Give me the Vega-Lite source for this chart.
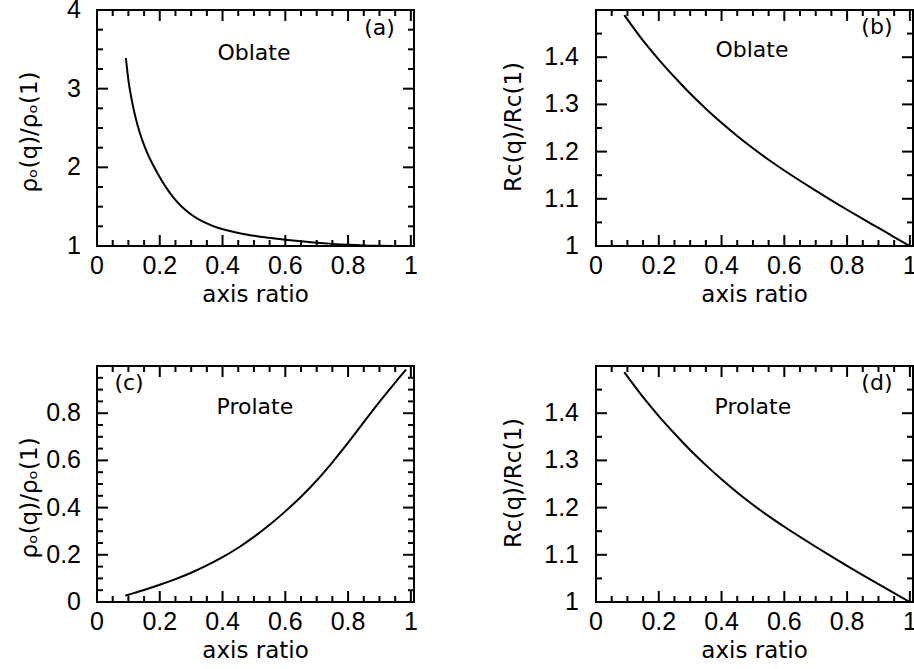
{
"$schema": "https://vega.github.io/schema/vega-lite/v6.json",
"autosize": "none",
"padding": {"left": 97, "top": 10, "right": 817, "bottom": 659},
"background": "white",
"bounds": "flush",
"columns": 2,
"spacing": {"row": 120, "column": 182},
"datasets": {
"a": [{"q":0.092,"v":3.39},{"q":0.10,"v":3.11},{"q":0.11,"v":2.87},{"q":0.12,"v":2.68},{"q":0.13,"v":2.525},{"q":0.14,"v":2.395},{"q":0.15,"v":2.283},{"q":0.16,"v":2.185},{"q":0.18,"v":2.02},{"q":0.20,"v":1.875},{"q":0.22,"v":1.745},{"q":0.24,"v":1.634},{"q":0.26,"v":1.541},{"q":0.28,"v":1.464},{"q":0.30,"v":1.401},{"q":0.32,"v":1.349},{"q":0.35,"v":1.287},{"q":0.38,"v":1.239},{"q":0.41,"v":1.203},{"q":0.44,"v":1.174},{"q":0.48,"v":1.143},{"q":0.52,"v":1.118},{"q":0.56,"v":1.098},{"q":0.60,"v":1.080},{"q":0.65,"v":1.060},{"q":0.70,"v":1.042},{"q":0.75,"v":1.027},{"q":0.80,"v":1.015},{"q":0.85,"v":1.007},{"q":0.90,"v":1.003},{"q":0.95,"v":1.001},{"q":0.99,"v":1.0}],
"b": [{"q":0.09,"v":1.489},{"q":0.10,"v":1.480},{"q":0.15,"v":1.435},{"q":0.20,"v":1.395},{"q":0.25,"v":1.358},{"q":0.30,"v":1.323},{"q":0.35,"v":1.291},{"q":0.40,"v":1.261},{"q":0.45,"v":1.233},{"q":0.50,"v":1.207},{"q":0.55,"v":1.1828},{"q":0.60,"v":1.160},{"q":0.65,"v":1.1383},{"q":0.70,"v":1.1173},{"q":0.75,"v":1.0968},{"q":0.80,"v":1.0768},{"q":0.85,"v":1.0573},{"q":0.90,"v":1.0383},{"q":0.95,"v":1.019},{"q":1.0,"v":1.0}],
"c": [{"q":0.09,"v":0.027},{"q":0.10,"v":0.031},{"q":0.15,"v":0.051},{"q":0.20,"v":0.073},{"q":0.25,"v":0.097},{"q":0.30,"v":0.124},{"q":0.35,"v":0.155},{"q":0.40,"v":0.190},{"q":0.45,"v":0.230},{"q":0.50,"v":0.276},{"q":0.55,"v":0.327},{"q":0.60,"v":0.384},{"q":0.65,"v":0.446},{"q":0.70,"v":0.515},{"q":0.75,"v":0.592},{"q":0.80,"v":0.675},{"q":0.85,"v":0.762},{"q":0.90,"v":0.848},{"q":0.95,"v":0.930},{"q":0.985,"v":0.985}],
"d": [{"q":0.09,"v":1.487},{"q":0.10,"v":1.478},{"q":0.15,"v":1.434},{"q":0.20,"v":1.394},{"q":0.25,"v":1.357},{"q":0.30,"v":1.322},{"q":0.35,"v":1.290},{"q":0.40,"v":1.260},{"q":0.45,"v":1.232},{"q":0.50,"v":1.206},{"q":0.55,"v":1.182},{"q":0.60,"v":1.1595},{"q":0.65,"v":1.138},{"q":0.70,"v":1.117},{"q":0.75,"v":1.0965},{"q":0.80,"v":1.0765},{"q":0.85,"v":1.057},{"q":0.90,"v":1.038},{"q":0.95,"v":1.019},{"q":1.0,"v":1.0}],
"ta": [{"x":0.90,"y":3.77,"t":"(a)"},{"x":0.50,"y":3.45,"t":"Oblate"}],
"tb": [{"x":0.895,"y":1.464,"t":"(b)"},{"x":0.497,"y":1.415,"t":"Oblate"}],
"tc": [{"x":0.102,"y":0.928,"t":"(c)"},{"x":0.503,"y":0.828,"t":"Prolate"}],
"td": [{"x":0.895,"y":1.464,"t":"(d)"},{"x":0.50,"y":1.414,"t":"Prolate"}],
"one": [{"k":1}],
"xlab": [{"t":0},{"t":0.2},{"t":0.4},{"t":0.6},{"t":0.8},{"t":1}],
"ya_lab": [{"t":1},{"t":2},{"t":3},{"t":4}],
"yb_lab": [{"t":1},{"t":1.1},{"t":1.2},{"t":1.3},{"t":1.4}],
"yc_lab": [{"t":0},{"t":0.2},{"t":0.4},{"t":0.6},{"t":0.8}],
"xmaj": [{"t":0.2},{"t":0.4},{"t":0.6},{"t":0.8},{"t":1}],
"xmin": [{"t":0.05},{"t":0.1},{"t":0.15},{"t":0.25},{"t":0.3},{"t":0.35},{"t":0.45},{"t":0.5},{"t":0.55},{"t":0.65},{"t":0.7},{"t":0.75},{"t":0.85},{"t":0.9},{"t":0.95}],
"ya_maj": [{"t":2},{"t":3}],
"ya_min": [{"t":1.25},{"t":1.5},{"t":1.75},{"t":2.25},{"t":2.5},{"t":2.75},{"t":3.25},{"t":3.5},{"t":3.75}],
"yb_maj": [{"t":1.1},{"t":1.2},{"t":1.3},{"t":1.4}],
"yb_min": [{"t":1.05},{"t":1.15},{"t":1.25},{"t":1.35},{"t":1.45}],
"yc_maj": [{"t":0.2},{"t":0.4},{"t":0.6},{"t":0.8}],
"yc_min": [{"t":0.05},{"t":0.1},{"t":0.15},{"t":0.25},{"t":0.3},{"t":0.35},{"t":0.45},{"t":0.5},{"t":0.55},{"t":0.65},{"t":0.7},{"t":0.75},{"t":0.85},{"t":0.9},{"t":0.95}]
},
"concat": [
{
"width": 317, "height": 236,
"layer": [
{"data": {"name": "a"}, "mark": {"type": "line", "color": "black", "strokeWidth": 2, "interpolate": "monotone"},
 "encoding": {"x": {"field": "q", "type": "quantitative", "scale": {"domain": [0, 1.01], "nice": false, "zero": false}, "axis": null}, "y": {"field": "v", "type": "quantitative", "scale": {"domain": [1, 4], "nice": false, "zero": false}, "axis": null}}},
{"data": {"name": "ta"}, "mark": {"type": "text", "font": "DejaVu Sans", "fontSize": 22, "color": "black", "align": "center", "baseline": "middle"},
 "encoding": {"x": {"field": "x", "type": "quantitative", "scale": {"domain": [0, 1.01], "nice": false, "zero": false}, "axis": null}, "y": {"field": "y", "type": "quantitative", "scale": {"domain": [1, 4], "nice": false, "zero": false}, "axis": null}, "text": {"field": "t"}}},
{"data": {"name": "xlab"}, "mark": {"type": "text", "font": "Liberation Sans", "fontSize": 25, "color": "black", "align": "center", "baseline": "alphabetic", "dy": 28},
 "encoding": {"x": {"field": "t", "type": "quantitative", "scale": {"domain": [0, 1.01], "nice": false, "zero": false}, "axis": null}, "y": {"datum": 1, "type": "quantitative", "scale": {"domain": [1, 4], "nice": false, "zero": false}, "axis": null}, "text": {"field": "t", "type": "quantitative", "format": "~g"}}},
{"data": {"name": "ya_lab"}, "mark": {"type": "text", "font": "Liberation Sans", "fontSize": 25, "color": "black", "align": "right", "baseline": "middle", "dx": -16},
 "encoding": {"y": {"field": "t", "type": "quantitative", "scale": {"domain": [1, 4], "nice": false, "zero": false}, "axis": null}, "x": {"datum": 0, "type": "quantitative", "scale": {"domain": [0, 1.01], "nice": false, "zero": false}, "axis": null}, "text": {"field": "t", "type": "quantitative", "format": "~g"}}},
{"data": {"name": "one"}, "mark": {"type": "text", "text": "axis ratio", "font": "DejaVu Sans", "fontSize": 23, "color": "black", "align": "center", "baseline": "alphabetic", "dy": 56},
 "encoding": {"x": {"datum": 0.505, "type": "quantitative", "scale": {"domain": [0, 1.01], "nice": false, "zero": false}, "axis": null}, "y": {"datum": 1, "type": "quantitative", "scale": {"domain": [1, 4], "nice": false, "zero": false}, "axis": null}}},
{"data": {"name": "one"}, "mark": {"type": "text", "text": "ρₒ(q)/ρₒ(1)", "font": "DejaVu Sans", "fontSize": 23, "color": "black", "align": "center", "baseline": "alphabetic", "angle": 270, "dy": -60},
 "encoding": {"x": {"datum": 0, "type": "quantitative", "scale": {"domain": [0, 1.01], "nice": false, "zero": false}, "axis": null}, "y": {"datum": 2.449, "type": "quantitative", "scale": {"domain": [1, 4], "nice": false, "zero": false}, "axis": null}}},
{"data": {"name": "xmaj"}, "mark": {"type": "rule", "color": "black", "strokeWidth": 2, "y2Offset": -11},
 "encoding": {"x": {"field": "t", "type": "quantitative", "scale": {"domain": [0, 1.01], "nice": false, "zero": false}, "axis": null}, "y": {"datum": 1, "type": "quantitative", "scale": {"domain": [1, 4], "nice": false, "zero": false}, "axis": null}, "y2": {"datum": 1}}},
{"data": {"name": "xmaj"}, "mark": {"type": "rule", "color": "black", "strokeWidth": 2, "y2Offset": 11},
 "encoding": {"x": {"field": "t", "type": "quantitative", "scale": {"domain": [0, 1.01], "nice": false, "zero": false}, "axis": null}, "y": {"datum": 4, "type": "quantitative", "scale": {"domain": [1, 4], "nice": false, "zero": false}, "axis": null}, "y2": {"datum": 4}}},
{"data": {"name": "xmin"}, "mark": {"type": "rule", "color": "black", "strokeWidth": 2, "y2Offset": -6},
 "encoding": {"x": {"field": "t", "type": "quantitative", "scale": {"domain": [0, 1.01], "nice": false, "zero": false}, "axis": null}, "y": {"datum": 1, "type": "quantitative", "scale": {"domain": [1, 4], "nice": false, "zero": false}, "axis": null}, "y2": {"datum": 1}}},
{"data": {"name": "xmin"}, "mark": {"type": "rule", "color": "black", "strokeWidth": 2, "y2Offset": 6},
 "encoding": {"x": {"field": "t", "type": "quantitative", "scale": {"domain": [0, 1.01], "nice": false, "zero": false}, "axis": null}, "y": {"datum": 4, "type": "quantitative", "scale": {"domain": [1, 4], "nice": false, "zero": false}, "axis": null}, "y2": {"datum": 4}}},
{"data": {"name": "ya_maj"}, "mark": {"type": "rule", "color": "black", "strokeWidth": 2, "x2Offset": 11},
 "encoding": {"y": {"field": "t", "type": "quantitative", "scale": {"domain": [1, 4], "nice": false, "zero": false}, "axis": null}, "x": {"datum": 0, "type": "quantitative", "scale": {"domain": [0, 1.01], "nice": false, "zero": false}, "axis": null}, "x2": {"datum": 0}}},
{"data": {"name": "ya_maj"}, "mark": {"type": "rule", "color": "black", "strokeWidth": 2, "x2Offset": -11},
 "encoding": {"y": {"field": "t", "type": "quantitative", "scale": {"domain": [1, 4], "nice": false, "zero": false}, "axis": null}, "x": {"datum": 1.01, "type": "quantitative", "scale": {"domain": [0, 1.01], "nice": false, "zero": false}, "axis": null}, "x2": {"datum": 1.01}}},
{"data": {"name": "ya_min"}, "mark": {"type": "rule", "color": "black", "strokeWidth": 2, "x2Offset": 6},
 "encoding": {"y": {"field": "t", "type": "quantitative", "scale": {"domain": [1, 4], "nice": false, "zero": false}, "axis": null}, "x": {"datum": 0, "type": "quantitative", "scale": {"domain": [0, 1.01], "nice": false, "zero": false}, "axis": null}, "x2": {"datum": 0}}},
{"data": {"name": "ya_min"}, "mark": {"type": "rule", "color": "black", "strokeWidth": 2, "x2Offset": -6},
 "encoding": {"y": {"field": "t", "type": "quantitative", "scale": {"domain": [1, 4], "nice": false, "zero": false}, "axis": null}, "x": {"datum": 1.01, "type": "quantitative", "scale": {"domain": [0, 1.01], "nice": false, "zero": false}, "axis": null}, "x2": {"datum": 1.01}}}
]
},
{
"width": 317, "height": 236,
"layer": [
{"data": {"name": "b"}, "mark": {"type": "line", "color": "black", "strokeWidth": 2, "interpolate": "monotone"},
 "encoding": {"x": {"field": "q", "type": "quantitative", "scale": {"domain": [0, 1.01], "nice": false, "zero": false}, "axis": null}, "y": {"field": "v", "type": "quantitative", "scale": {"domain": [1, 1.5], "nice": false, "zero": false}, "axis": null}}},
{"data": {"name": "tb"}, "mark": {"type": "text", "font": "DejaVu Sans", "fontSize": 22, "color": "black", "align": "center", "baseline": "middle"},
 "encoding": {"x": {"field": "x", "type": "quantitative", "scale": {"domain": [0, 1.01], "nice": false, "zero": false}, "axis": null}, "y": {"field": "y", "type": "quantitative", "scale": {"domain": [1, 1.5], "nice": false, "zero": false}, "axis": null}, "text": {"field": "t"}}},
{"data": {"name": "xlab"}, "mark": {"type": "text", "font": "Liberation Sans", "fontSize": 25, "color": "black", "align": "center", "baseline": "alphabetic", "dy": 28},
 "encoding": {"x": {"field": "t", "type": "quantitative", "scale": {"domain": [0, 1.01], "nice": false, "zero": false}, "axis": null}, "y": {"datum": 1, "type": "quantitative", "scale": {"domain": [1, 1.5], "nice": false, "zero": false}, "axis": null}, "text": {"field": "t", "type": "quantitative", "format": "~g"}}},
{"data": {"name": "yb_lab"}, "mark": {"type": "text", "font": "Liberation Sans", "fontSize": 25, "color": "black", "align": "right", "baseline": "middle", "dx": -17},
 "encoding": {"y": {"field": "t", "type": "quantitative", "scale": {"domain": [1, 1.5], "nice": false, "zero": false}, "axis": null}, "x": {"datum": 0, "type": "quantitative", "scale": {"domain": [0, 1.01], "nice": false, "zero": false}, "axis": null}, "text": {"field": "t", "type": "quantitative", "format": "~g"}}},
{"data": {"name": "one"}, "mark": {"type": "text", "text": "axis ratio", "font": "DejaVu Sans", "fontSize": 23, "color": "black", "align": "center", "baseline": "alphabetic", "dy": 56},
 "encoding": {"x": {"datum": 0.505, "type": "quantitative", "scale": {"domain": [0, 1.01], "nice": false, "zero": false}, "axis": null}, "y": {"datum": 1, "type": "quantitative", "scale": {"domain": [1, 1.5], "nice": false, "zero": false}, "axis": null}}},
{"data": {"name": "one"}, "mark": {"type": "text", "text": "Rc(q)/Rc(1)", "font": "DejaVu Sans", "fontSize": 23, "color": "black", "align": "center", "baseline": "alphabetic", "angle": 270, "dy": -75},
 "encoding": {"x": {"datum": 0, "type": "quantitative", "scale": {"domain": [0, 1.01], "nice": false, "zero": false}, "axis": null}, "y": {"datum": 1.252, "type": "quantitative", "scale": {"domain": [1, 1.5], "nice": false, "zero": false}, "axis": null}}},
{"data": {"name": "xmaj"}, "mark": {"type": "rule", "color": "black", "strokeWidth": 2, "y2Offset": -11},
 "encoding": {"x": {"field": "t", "type": "quantitative", "scale": {"domain": [0, 1.01], "nice": false, "zero": false}, "axis": null}, "y": {"datum": 1, "type": "quantitative", "scale": {"domain": [1, 1.5], "nice": false, "zero": false}, "axis": null}, "y2": {"datum": 1}}},
{"data": {"name": "xmaj"}, "mark": {"type": "rule", "color": "black", "strokeWidth": 2, "y2Offset": 11},
 "encoding": {"x": {"field": "t", "type": "quantitative", "scale": {"domain": [0, 1.01], "nice": false, "zero": false}, "axis": null}, "y": {"datum": 1.5, "type": "quantitative", "scale": {"domain": [1, 1.5], "nice": false, "zero": false}, "axis": null}, "y2": {"datum": 1.5}}},
{"data": {"name": "xmin"}, "mark": {"type": "rule", "color": "black", "strokeWidth": 2, "y2Offset": -6},
 "encoding": {"x": {"field": "t", "type": "quantitative", "scale": {"domain": [0, 1.01], "nice": false, "zero": false}, "axis": null}, "y": {"datum": 1, "type": "quantitative", "scale": {"domain": [1, 1.5], "nice": false, "zero": false}, "axis": null}, "y2": {"datum": 1}}},
{"data": {"name": "xmin"}, "mark": {"type": "rule", "color": "black", "strokeWidth": 2, "y2Offset": 6},
 "encoding": {"x": {"field": "t", "type": "quantitative", "scale": {"domain": [0, 1.01], "nice": false, "zero": false}, "axis": null}, "y": {"datum": 1.5, "type": "quantitative", "scale": {"domain": [1, 1.5], "nice": false, "zero": false}, "axis": null}, "y2": {"datum": 1.5}}},
{"data": {"name": "yb_maj"}, "mark": {"type": "rule", "color": "black", "strokeWidth": 2, "x2Offset": 11},
 "encoding": {"y": {"field": "t", "type": "quantitative", "scale": {"domain": [1, 1.5], "nice": false, "zero": false}, "axis": null}, "x": {"datum": 0, "type": "quantitative", "scale": {"domain": [0, 1.01], "nice": false, "zero": false}, "axis": null}, "x2": {"datum": 0}}},
{"data": {"name": "yb_maj"}, "mark": {"type": "rule", "color": "black", "strokeWidth": 2, "x2Offset": -11},
 "encoding": {"y": {"field": "t", "type": "quantitative", "scale": {"domain": [1, 1.5], "nice": false, "zero": false}, "axis": null}, "x": {"datum": 1.01, "type": "quantitative", "scale": {"domain": [0, 1.01], "nice": false, "zero": false}, "axis": null}, "x2": {"datum": 1.01}}},
{"data": {"name": "yb_min"}, "mark": {"type": "rule", "color": "black", "strokeWidth": 2, "x2Offset": 6},
 "encoding": {"y": {"field": "t", "type": "quantitative", "scale": {"domain": [1, 1.5], "nice": false, "zero": false}, "axis": null}, "x": {"datum": 0, "type": "quantitative", "scale": {"domain": [0, 1.01], "nice": false, "zero": false}, "axis": null}, "x2": {"datum": 0}}},
{"data": {"name": "yb_min"}, "mark": {"type": "rule", "color": "black", "strokeWidth": 2, "x2Offset": -6},
 "encoding": {"y": {"field": "t", "type": "quantitative", "scale": {"domain": [1, 1.5], "nice": false, "zero": false}, "axis": null}, "x": {"datum": 1.01, "type": "quantitative", "scale": {"domain": [0, 1.01], "nice": false, "zero": false}, "axis": null}, "x2": {"datum": 1.01}}}
]
},
{
"width": 317, "height": 236,
"layer": [
{"data": {"name": "c"}, "mark": {"type": "line", "color": "black", "strokeWidth": 2, "interpolate": "monotone"},
 "encoding": {"x": {"field": "q", "type": "quantitative", "scale": {"domain": [0, 1.01], "nice": false, "zero": false}, "axis": null}, "y": {"field": "v", "type": "quantitative", "scale": {"domain": [0, 1], "nice": false, "zero": false}, "axis": null}}},
{"data": {"name": "tc"}, "mark": {"type": "text", "font": "DejaVu Sans", "fontSize": 22, "color": "black", "align": "center", "baseline": "middle"},
 "encoding": {"x": {"field": "x", "type": "quantitative", "scale": {"domain": [0, 1.01], "nice": false, "zero": false}, "axis": null}, "y": {"field": "y", "type": "quantitative", "scale": {"domain": [0, 1], "nice": false, "zero": false}, "axis": null}, "text": {"field": "t"}}},
{"data": {"name": "xlab"}, "mark": {"type": "text", "font": "Liberation Sans", "fontSize": 25, "color": "black", "align": "center", "baseline": "alphabetic", "dy": 28},
 "encoding": {"x": {"field": "t", "type": "quantitative", "scale": {"domain": [0, 1.01], "nice": false, "zero": false}, "axis": null}, "y": {"datum": 0, "type": "quantitative", "scale": {"domain": [0, 1], "nice": false, "zero": false}, "axis": null}, "text": {"field": "t", "type": "quantitative", "format": "~g"}}},
{"data": {"name": "yc_lab"}, "mark": {"type": "text", "font": "Liberation Sans", "fontSize": 25, "color": "black", "align": "right", "baseline": "middle", "dx": -16},
 "encoding": {"y": {"field": "t", "type": "quantitative", "scale": {"domain": [0, 1], "nice": false, "zero": false}, "axis": null}, "x": {"datum": 0, "type": "quantitative", "scale": {"domain": [0, 1.01], "nice": false, "zero": false}, "axis": null}, "text": {"field": "t", "type": "quantitative", "format": "~g"}}},
{"data": {"name": "one"}, "mark": {"type": "text", "text": "axis ratio", "font": "DejaVu Sans", "fontSize": 23, "color": "black", "align": "center", "baseline": "alphabetic", "dy": 56},
 "encoding": {"x": {"datum": 0.505, "type": "quantitative", "scale": {"domain": [0, 1.01], "nice": false, "zero": false}, "axis": null}, "y": {"datum": 0, "type": "quantitative", "scale": {"domain": [0, 1], "nice": false, "zero": false}, "axis": null}}},
{"data": {"name": "one"}, "mark": {"type": "text", "text": "ρₒ(q)/ρₒ(1)", "font": "DejaVu Sans", "fontSize": 23, "color": "black", "align": "center", "baseline": "alphabetic", "angle": 270, "dy": -60},
 "encoding": {"x": {"datum": 0, "type": "quantitative", "scale": {"domain": [0, 1.01], "nice": false, "zero": false}, "axis": null}, "y": {"datum": 0.441, "type": "quantitative", "scale": {"domain": [0, 1], "nice": false, "zero": false}, "axis": null}}},
{"data": {"name": "xmaj"}, "mark": {"type": "rule", "color": "black", "strokeWidth": 2, "y2Offset": -11},
 "encoding": {"x": {"field": "t", "type": "quantitative", "scale": {"domain": [0, 1.01], "nice": false, "zero": false}, "axis": null}, "y": {"datum": 0, "type": "quantitative", "scale": {"domain": [0, 1], "nice": false, "zero": false}, "axis": null}, "y2": {"datum": 0}}},
{"data": {"name": "xmaj"}, "mark": {"type": "rule", "color": "black", "strokeWidth": 2, "y2Offset": 11},
 "encoding": {"x": {"field": "t", "type": "quantitative", "scale": {"domain": [0, 1.01], "nice": false, "zero": false}, "axis": null}, "y": {"datum": 1, "type": "quantitative", "scale": {"domain": [0, 1], "nice": false, "zero": false}, "axis": null}, "y2": {"datum": 1}}},
{"data": {"name": "xmin"}, "mark": {"type": "rule", "color": "black", "strokeWidth": 2, "y2Offset": -6},
 "encoding": {"x": {"field": "t", "type": "quantitative", "scale": {"domain": [0, 1.01], "nice": false, "zero": false}, "axis": null}, "y": {"datum": 0, "type": "quantitative", "scale": {"domain": [0, 1], "nice": false, "zero": false}, "axis": null}, "y2": {"datum": 0}}},
{"data": {"name": "xmin"}, "mark": {"type": "rule", "color": "black", "strokeWidth": 2, "y2Offset": 6},
 "encoding": {"x": {"field": "t", "type": "quantitative", "scale": {"domain": [0, 1.01], "nice": false, "zero": false}, "axis": null}, "y": {"datum": 1, "type": "quantitative", "scale": {"domain": [0, 1], "nice": false, "zero": false}, "axis": null}, "y2": {"datum": 1}}},
{"data": {"name": "yc_maj"}, "mark": {"type": "rule", "color": "black", "strokeWidth": 2, "x2Offset": 11},
 "encoding": {"y": {"field": "t", "type": "quantitative", "scale": {"domain": [0, 1], "nice": false, "zero": false}, "axis": null}, "x": {"datum": 0, "type": "quantitative", "scale": {"domain": [0, 1.01], "nice": false, "zero": false}, "axis": null}, "x2": {"datum": 0}}},
{"data": {"name": "yc_maj"}, "mark": {"type": "rule", "color": "black", "strokeWidth": 2, "x2Offset": -11},
 "encoding": {"y": {"field": "t", "type": "quantitative", "scale": {"domain": [0, 1], "nice": false, "zero": false}, "axis": null}, "x": {"datum": 1.01, "type": "quantitative", "scale": {"domain": [0, 1.01], "nice": false, "zero": false}, "axis": null}, "x2": {"datum": 1.01}}},
{"data": {"name": "yc_min"}, "mark": {"type": "rule", "color": "black", "strokeWidth": 2, "x2Offset": 6},
 "encoding": {"y": {"field": "t", "type": "quantitative", "scale": {"domain": [0, 1], "nice": false, "zero": false}, "axis": null}, "x": {"datum": 0, "type": "quantitative", "scale": {"domain": [0, 1.01], "nice": false, "zero": false}, "axis": null}, "x2": {"datum": 0}}},
{"data": {"name": "yc_min"}, "mark": {"type": "rule", "color": "black", "strokeWidth": 2, "x2Offset": -6},
 "encoding": {"y": {"field": "t", "type": "quantitative", "scale": {"domain": [0, 1], "nice": false, "zero": false}, "axis": null}, "x": {"datum": 1.01, "type": "quantitative", "scale": {"domain": [0, 1.01], "nice": false, "zero": false}, "axis": null}, "x2": {"datum": 1.01}}}
]
},
{
"width": 317, "height": 236,
"layer": [
{"data": {"name": "d"}, "mark": {"type": "line", "color": "black", "strokeWidth": 2, "interpolate": "monotone"},
 "encoding": {"x": {"field": "q", "type": "quantitative", "scale": {"domain": [0, 1.01], "nice": false, "zero": false}, "axis": null}, "y": {"field": "v", "type": "quantitative", "scale": {"domain": [1, 1.5], "nice": false, "zero": false}, "axis": null}}},
{"data": {"name": "td"}, "mark": {"type": "text", "font": "DejaVu Sans", "fontSize": 22, "color": "black", "align": "center", "baseline": "middle"},
 "encoding": {"x": {"field": "x", "type": "quantitative", "scale": {"domain": [0, 1.01], "nice": false, "zero": false}, "axis": null}, "y": {"field": "y", "type": "quantitative", "scale": {"domain": [1, 1.5], "nice": false, "zero": false}, "axis": null}, "text": {"field": "t"}}},
{"data": {"name": "xlab"}, "mark": {"type": "text", "font": "Liberation Sans", "fontSize": 25, "color": "black", "align": "center", "baseline": "alphabetic", "dy": 28},
 "encoding": {"x": {"field": "t", "type": "quantitative", "scale": {"domain": [0, 1.01], "nice": false, "zero": false}, "axis": null}, "y": {"datum": 1, "type": "quantitative", "scale": {"domain": [1, 1.5], "nice": false, "zero": false}, "axis": null}, "text": {"field": "t", "type": "quantitative", "format": "~g"}}},
{"data": {"name": "yb_lab"}, "mark": {"type": "text", "font": "Liberation Sans", "fontSize": 25, "color": "black", "align": "right", "baseline": "middle", "dx": -17},
 "encoding": {"y": {"field": "t", "type": "quantitative", "scale": {"domain": [1, 1.5], "nice": false, "zero": false}, "axis": null}, "x": {"datum": 0, "type": "quantitative", "scale": {"domain": [0, 1.01], "nice": false, "zero": false}, "axis": null}, "text": {"field": "t", "type": "quantitative", "format": "~g"}}},
{"data": {"name": "one"}, "mark": {"type": "text", "text": "axis ratio", "font": "DejaVu Sans", "fontSize": 23, "color": "black", "align": "center", "baseline": "alphabetic", "dy": 56},
 "encoding": {"x": {"datum": 0.505, "type": "quantitative", "scale": {"domain": [0, 1.01], "nice": false, "zero": false}, "axis": null}, "y": {"datum": 1, "type": "quantitative", "scale": {"domain": [1, 1.5], "nice": false, "zero": false}, "axis": null}}},
{"data": {"name": "one"}, "mark": {"type": "text", "text": "Rc(q)/Rc(1)", "font": "DejaVu Sans", "fontSize": 23, "color": "black", "align": "center", "baseline": "alphabetic", "angle": 270, "dy": -75},
 "encoding": {"x": {"datum": 0, "type": "quantitative", "scale": {"domain": [0, 1.01], "nice": false, "zero": false}, "axis": null}, "y": {"datum": 1.252, "type": "quantitative", "scale": {"domain": [1, 1.5], "nice": false, "zero": false}, "axis": null}}},
{"data": {"name": "xmaj"}, "mark": {"type": "rule", "color": "black", "strokeWidth": 2, "y2Offset": -11},
 "encoding": {"x": {"field": "t", "type": "quantitative", "scale": {"domain": [0, 1.01], "nice": false, "zero": false}, "axis": null}, "y": {"datum": 1, "type": "quantitative", "scale": {"domain": [1, 1.5], "nice": false, "zero": false}, "axis": null}, "y2": {"datum": 1}}},
{"data": {"name": "xmaj"}, "mark": {"type": "rule", "color": "black", "strokeWidth": 2, "y2Offset": 11},
 "encoding": {"x": {"field": "t", "type": "quantitative", "scale": {"domain": [0, 1.01], "nice": false, "zero": false}, "axis": null}, "y": {"datum": 1.5, "type": "quantitative", "scale": {"domain": [1, 1.5], "nice": false, "zero": false}, "axis": null}, "y2": {"datum": 1.5}}},
{"data": {"name": "xmin"}, "mark": {"type": "rule", "color": "black", "strokeWidth": 2, "y2Offset": -6},
 "encoding": {"x": {"field": "t", "type": "quantitative", "scale": {"domain": [0, 1.01], "nice": false, "zero": false}, "axis": null}, "y": {"datum": 1, "type": "quantitative", "scale": {"domain": [1, 1.5], "nice": false, "zero": false}, "axis": null}, "y2": {"datum": 1}}},
{"data": {"name": "xmin"}, "mark": {"type": "rule", "color": "black", "strokeWidth": 2, "y2Offset": 6},
 "encoding": {"x": {"field": "t", "type": "quantitative", "scale": {"domain": [0, 1.01], "nice": false, "zero": false}, "axis": null}, "y": {"datum": 1.5, "type": "quantitative", "scale": {"domain": [1, 1.5], "nice": false, "zero": false}, "axis": null}, "y2": {"datum": 1.5}}},
{"data": {"name": "yb_maj"}, "mark": {"type": "rule", "color": "black", "strokeWidth": 2, "x2Offset": 11},
 "encoding": {"y": {"field": "t", "type": "quantitative", "scale": {"domain": [1, 1.5], "nice": false, "zero": false}, "axis": null}, "x": {"datum": 0, "type": "quantitative", "scale": {"domain": [0, 1.01], "nice": false, "zero": false}, "axis": null}, "x2": {"datum": 0}}},
{"data": {"name": "yb_maj"}, "mark": {"type": "rule", "color": "black", "strokeWidth": 2, "x2Offset": -11},
 "encoding": {"y": {"field": "t", "type": "quantitative", "scale": {"domain": [1, 1.5], "nice": false, "zero": false}, "axis": null}, "x": {"datum": 1.01, "type": "quantitative", "scale": {"domain": [0, 1.01], "nice": false, "zero": false}, "axis": null}, "x2": {"datum": 1.01}}},
{"data": {"name": "yb_min"}, "mark": {"type": "rule", "color": "black", "strokeWidth": 2, "x2Offset": 6},
 "encoding": {"y": {"field": "t", "type": "quantitative", "scale": {"domain": [1, 1.5], "nice": false, "zero": false}, "axis": null}, "x": {"datum": 0, "type": "quantitative", "scale": {"domain": [0, 1.01], "nice": false, "zero": false}, "axis": null}, "x2": {"datum": 0}}},
{"data": {"name": "yb_min"}, "mark": {"type": "rule", "color": "black", "strokeWidth": 2, "x2Offset": -6},
 "encoding": {"y": {"field": "t", "type": "quantitative", "scale": {"domain": [1, 1.5], "nice": false, "zero": false}, "axis": null}, "x": {"datum": 1.01, "type": "quantitative", "scale": {"domain": [0, 1.01], "nice": false, "zero": false}, "axis": null}, "x2": {"datum": 1.01}}}
]
}
],
"config": {
 "view": {"stroke": "black", "strokeWidth": 2}
}
}
